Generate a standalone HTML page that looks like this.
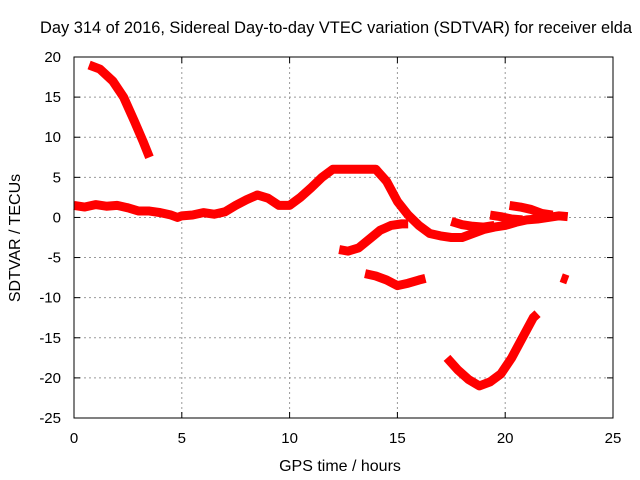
<!DOCTYPE html>
<html><head><meta charset="utf-8"><style>
body{margin:0;background:#fff;}
svg{display:block;font-family:"Liberation Sans",sans-serif;}
</style></head><body>
<svg width="640" height="480">
<g id="grid"></g>
<g id="series"></g>
<rect x="74" y="57" width="539" height="361" fill="none" stroke="#000" stroke-width="1"/>
<g id="ticks" font-size="15" fill="#000"></g>
<text x="336" y="33" text-anchor="middle" font-size="16.4" textLength="592" lengthAdjust="spacingAndGlyphs">Day 314 of 2016, Sidereal Day-to-day VTEC variation (SDTVAR) for receiver elda</text>
<text x="340" y="471" text-anchor="middle" font-size="16">GPS time / hours</text>
<text transform="translate(20,238) rotate(-90)" text-anchor="middle" font-size="16">SDTVAR / TECUs</text>
</svg>
<script>
const xTicks=[0,5,10,15,20,25];
const yTicks=[20,15,10,5,0,-5,-10,-15,-20,-25];
const segA=[[0.7,19],[1.2,18.5],[1.8,17],[2.3,15],[2.8,12],[3.2,9.5],[3.5,7.5]];
const segB=[[0,1.5],[0.5,1.3],[1,1.6],[1.5,1.4],[2,1.5],[2.5,1.2],[3,0.8],[3.5,0.8],[4,0.6],[4.5,0.3],[4.8,0],[5,0.2],[5.5,0.3],[6,0.6],[6.5,0.4],[7,0.7],[7.5,1.5],[8,2.2],[8.5,2.8],[9,2.4],[9.5,1.5],[10,1.5],[10.5,2.5],[11,3.7],[11.5,5],[12,6],[12.5,6],[13,6],[13.5,6],[14,6],[14.5,4.5],[15,2],[15.5,0.3],[16,-1],[16.5,-2],[17,-2.3],[17.5,-2.5],[18,-2.5],[18.5,-2],[19,-1.5],[19.5,-1.2],[20,-1],[20.5,-0.6],[21,-0.3],[21.5,-0.2],[22,0],[22.5,0.2],[22.9,0.1]];
const segC=[[12.3,-4],[12.7,-4.2],[13.2,-3.8],[13.7,-2.7],[14.2,-1.6],[14.7,-1],[15.2,-0.8],[15.5,-0.8]];
const segD=[[13.5,-7],[14,-7.3],[14.5,-7.8],[15,-8.5],[15.5,-8.2],[16,-7.8],[16.3,-7.6]];
const segE=[[17.3,-17.5],[17.8,-19],[18.3,-20.2],[18.8,-21],[19.3,-20.5],[19.8,-19.5],[20.3,-17.5],[20.8,-15],[21.3,-12.5],[21.5,-12]];
const segF=[[17.5,-0.5],[18,-0.9],[18.5,-1.1],[19,-1.2],[19.5,-1]];
const segF2=[[19.3,0.3],[19.8,0.1],[20.3,-0.2],[20.8,-0.3]];
const segG=[[20.2,1.5],[20.7,1.3],[21.2,1],[21.7,0.5],[22.2,0.3]];
const segH=[[22.6,-7.5],[22.9,-7.8]];
const segments=[segA,segB,segC,segD,segE,segF,segF2,segG,segH];
const X=v=>74+v*(539/25);
const Y=v=>57+(20-v)*(361/45);
const NS="http://www.w3.org/2000/svg";
const grid=document.getElementById('grid'),ticks=document.getElementById('ticks'),ser=document.getElementById('series');
function mk(t,a,p){const e=document.createElementNS(NS,t);for(const k in a)e.setAttribute(k,a[k]);p.appendChild(e);return e;}
xTicks.forEach(v=>{
 if(v>0&&v<25){const l=mk('line',{x1:X(v),x2:X(v),y1:57,y2:418,stroke:'#999','stroke-dasharray':'2,3'},grid);
 }
 const t=mk('line',{x1:X(v),x2:X(v),y1:418,y2:412,stroke:'#000'},ticks);
 
 const t2=mk('line',{x1:X(v),x2:X(v),y1:57,y2:63,stroke:'#000'},ticks);
 
 const s=mk('text',{x:X(v),y:443,'text-anchor':'middle'},ticks);s.textContent=v;
 
});
yTicks.forEach(v=>{
 if(v<20&&v>-25){const l=mk('line',{x1:74,x2:613,y1:Y(v),y2:Y(v),stroke:'#999','stroke-dasharray':'2,3'},grid);
 }
 const t=mk('line',{x1:74,x2:80,y1:Y(v),y2:Y(v),stroke:'#000'},ticks);
 
 const t2=mk('line',{x1:613,x2:607,y1:Y(v),y2:Y(v),stroke:'#000'},ticks);
 
 const s=mk('text',{x:61,y:Y(v)+5,'text-anchor':'end'},ticks);s.textContent=v;
 
});
segments.forEach(seg=>{
 const p=mk('polyline',{points:seg.map(d=>X(d[0])+','+Y(d[1])).join(' '),fill:'none',stroke:'#f00','stroke-width':9,'stroke-linejoin':'round','stroke-linecap':'butt'},ser);
 
 
});
</script>
</body></html>
